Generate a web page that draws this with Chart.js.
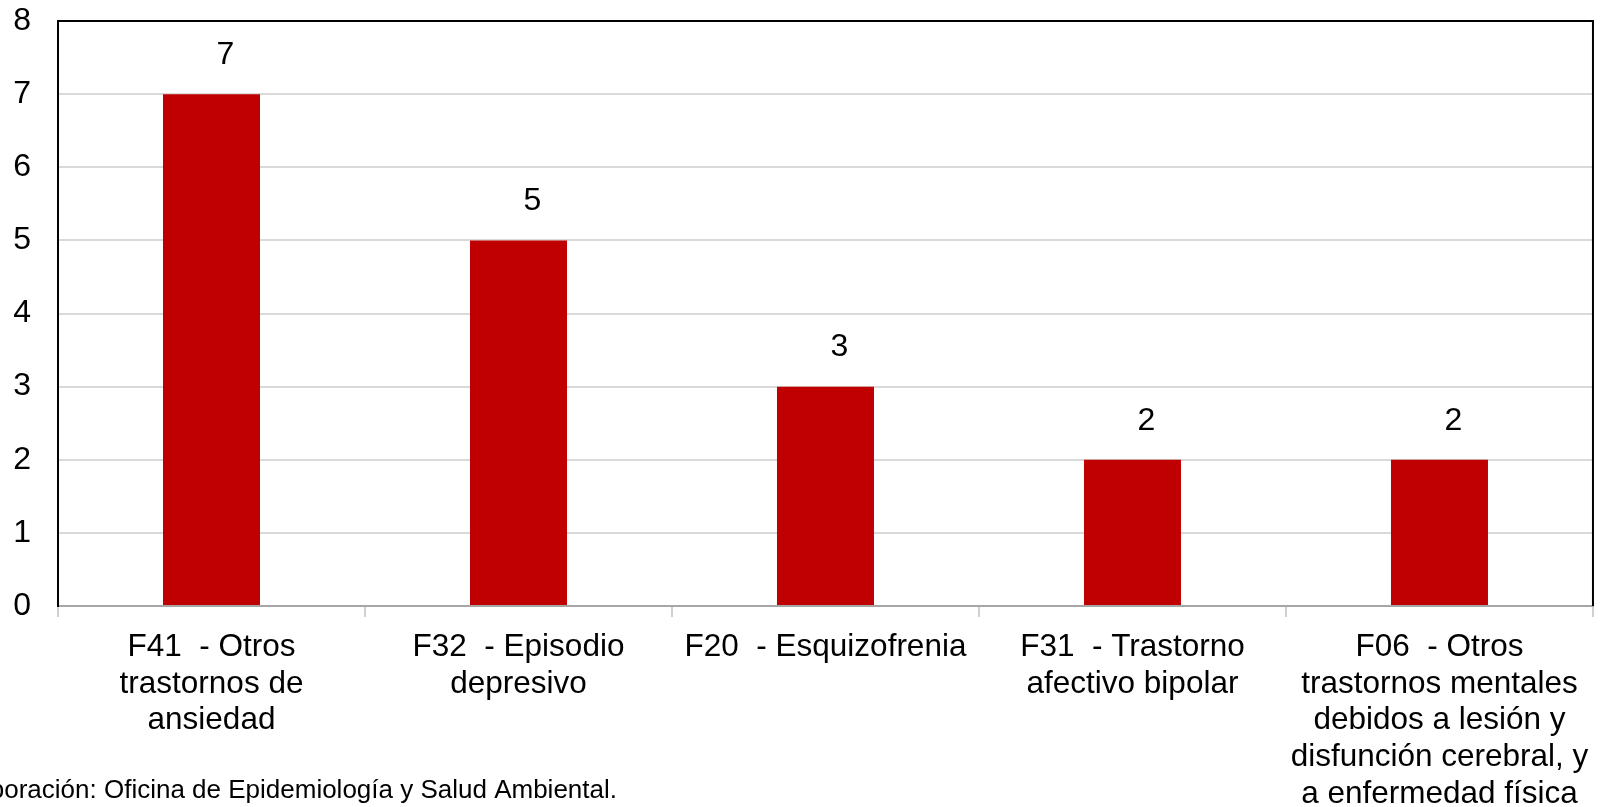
<!DOCTYPE html>
<html>
<head>
<meta charset="utf-8">
<script src="https://cdn.jsdelivr.net/npm/chart.js@4/dist/chart.umd.min.js"></script>
<style>
    html, body { margin: 0; padding: 0; background: #fff; }
    #wrap { width: 1601px; height: 807px; position: relative; }
</style>
</head>
<body>
<div id="wrap"><canvas id="chart" width="1601" height="807"></canvas></div>
<script>
var categories = [
    ["F41  - Otros", "trastornos de", "ansiedad"],
    ["F32  - Episodio", "depresivo"],
    ["F20  - Esquizofrenia"],
    ["F31  - Trastorno", "afectivo bipolar"],
    ["F06  - Otros", "trastornos mentales", "debidos a lesión y", "disfunción cerebral, y", "a enfermedad física"]
];
var casos = [7, 5, 3, 2, 2];
var yMin = 0;
var yMax = 8;
var yStep = 1;
var footerText = "Elaboración: Oficina de Epidemiología y Salud Ambiental.";

var fontFamily = "'Liberation Sans', Arial, sans-serif";

// borde negro arriba y a la derecha del area del grafico
var framePlugin = {
    id: "frame",
    afterDatasetsDraw: function (chart) {
        var ctx = chart.ctx;
        var a = chart.chartArea;
        ctx.save();
        ctx.strokeStyle = "#000";
        ctx.lineWidth = 2;
        ctx.beginPath();
        ctx.moveTo(a.left, a.top);
        ctx.lineTo(a.right, a.top);
        ctx.lineTo(a.right, a.bottom);
        ctx.stroke();
        ctx.restore();
    }
};

// etiquetas de valor sobre las barras
var valueLabels = {
    id: "valueLabels",
    afterDatasetsDraw: function (chart) {
        var ctx = chart.ctx;
        var meta = chart.getDatasetMeta(0);
        ctx.save();
        ctx.font = "32px " + fontFamily;
        ctx.fillStyle = "#000";
        ctx.textAlign = "center";
        ctx.textBaseline = "middle";
        meta.data.forEach(function (bar, i) {
            ctx.fillText(chart.data.datasets[0].data[i], bar.x + 14, bar.y - 39);
        });
        ctx.restore();
    }
};

var footerPlugin = {
    id: "footer",
    afterDraw: function (chart) {
        var ctx = chart.ctx;
        ctx.save();
        ctx.font = "26px " + fontFamily;
        ctx.fillStyle = "#000";
        ctx.textAlign = "right";
        ctx.textBaseline = "middle";
        ctx.fillText(footerText, 617, 791);
        ctx.restore();
    }
};

var ctx = document.getElementById("chart");
var chart = new Chart(ctx, {
    type: "bar",
    data: {
        labels: categories,
        datasets: [{
            data: casos,
            backgroundColor: "#c00000",
            borderWidth: 0,
            barPercentage: 0.316,
            categoryPercentage: 1
        }]
    },
    options: {
        responsive: false,
        animation: false,
        layout: {
            padding: { top: 21, right: 7, left: 0, bottom: 0 }
        },
        plugins: {
            legend: { display: false },
            tooltip: { enabled: false }
        },
        scales: {
            x: {
                offset: true,
                grid: {
                    offset: true,
                    drawOnChartArea: false,
                    drawTicks: true,
                    tickLength: 11,
                    color: "#d0d0d0",
                    lineWidth: 2
                },
                border: { color: "#a6a6a6", width: 2 },
                ticks: {
                    color: "#000",
                    font: { family: fontFamily, size: 31.5, lineHeight: 1.165 },
                    padding: 12,
                    maxRotation: 0,
                    minRotation: 0,
                    autoSkip: false
                },
                afterFit: function (scale) {
                    scale.height = 201;
                }
            },
            y: {
                min: yMin,
                max: yMax,
                ticks: {
                    stepSize: yStep,
                    color: "#000",
                    font: { family: fontFamily, size: 32 },
                    padding: 0
                },
                grid: {
                    color: "#d9d9d9",
                    lineWidth: 2,
                    drawTicks: true,
                    tickLength: 27,
                    tickColor: "rgba(0,0,0,0)"
                },
                border: { color: "#000", width: 2 },
                afterFit: function (scale) {
                    scale.width = 58;
                }
            }
        }
    },
    plugins: [framePlugin, valueLabels, footerPlugin]
});
</script>
</body>
</html>
